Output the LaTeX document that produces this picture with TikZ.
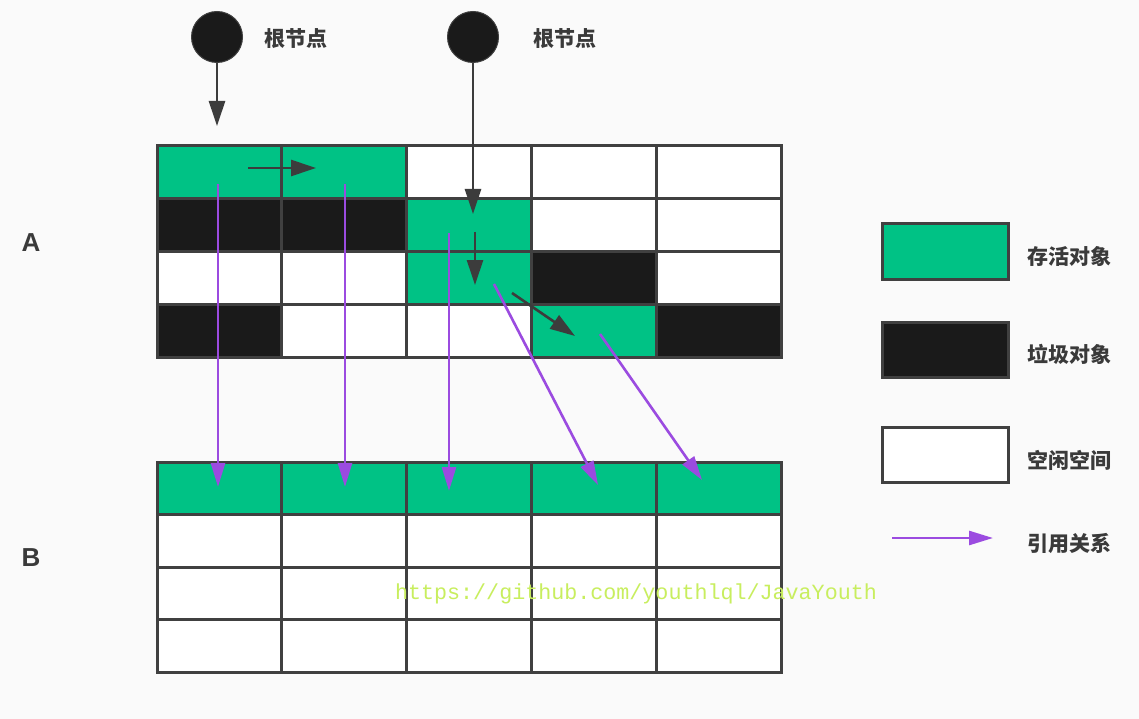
\documentclass[tikz,border=0pt]{standalone}
\usepackage{fontspec}
\usetikzlibrary{arrows.meta}
\newfontfamily\cjk{Noto Sans CJK SC}
\newfontfamily\latinb{Liberation Sans}
\newfontfamily\wmark{Liberation Mono}
\definecolor{live}{HTML}{00C285}
\definecolor{garb}{HTML}{1A1A1A}
\definecolor{linec}{HTML}{404040}
\definecolor{arrowc}{HTML}{3C3C3C}
\definecolor{refc}{HTML}{9B4BE0}
\definecolor{textc}{HTML}{3A3A3A}
\definecolor{wmc}{HTML}{C8EE5E}
\definecolor{bgc}{HTML}{FAFAFA}
\tikzset{
  cell/.style={draw=linec, line width=3pt, minimum width=124.8pt, minimum height=52.75pt, inner sep=0pt, outer sep=0pt, anchor=north west},
  g/.style={fill=live},
  k/.style={fill=garb},
  w/.style={fill=white},
  legbox/.style={draw=linec, line width=3pt, minimum width=126pt, minimum height=55pt, inner sep=0pt},
  root/.style={circle, fill=garb, draw=linec, line width=1pt, minimum size=51pt, inner sep=0pt},
  lab/.style={text=textc, font=\cjk\bfseries\fontsize{21}{21}\selectfont, inner sep=0pt},
  big/.style={text=textc, font=\latinb\bfseries\fontsize{26}{26}\selectfont, inner sep=0pt},
  darr/.style={draw=arrowc, line width=2.6pt, -{Triangle[length=25pt,width=16pt]}},
  parr/.style={draw=refc, line width=2.6pt, -{Triangle[length=24pt,width=14pt]}},
}
\begin{document}
\begin{tikzpicture}[x=1pt,y=-1pt]
\useasboundingbox (0,0) rectangle (1139,719);
\fill[bgc] (0,0) rectangle (1139,719);
% grid A
\foreach \c [count=\i from 0] in {g,g,w,w,w, k,k,g,w,w, w,w,g,k,w, k,w,w,g,k}{
  \pgfmathtruncatemacro{\row}{floor(\i/5)}
  \pgfmathtruncatemacro{\col}{mod(\i,5)}
  \pgfmathsetmacro{\xx}{157+124.8*\col}
  \pgfmathsetmacro{\yy}{146+52.75*\row}
  \node[cell,\c] (A-\row-\col) at (\xx,\yy) {};
}
% grid B
\foreach \c [count=\i from 0] in {g,g,g,g,g, w,w,w,w,w, w,w,w,w,w, w,w,w,w,w}{
  \pgfmathtruncatemacro{\row}{floor(\i/5)}
  \pgfmathtruncatemacro{\col}{mod(\i,5)}
  \pgfmathsetmacro{\xx}{157+124.8*\col}
  \pgfmathsetmacro{\yy}{462+52.5*\row}
  \node[cell,\c,minimum height=52.5pt] (B-\row-\col) at (\xx,\yy) {};
}
% labels A / B
\node[big] (labA) at (31,243) {A};
\node[big] (labB) at (31,558) {B};
% roots
\node[root] (root1) at (217,37) {};
\node[root] (root2) at (473,37) {};
\node[lab] (rl1) at (296,39) {根节点};
\node[lab] (rl2) at (565,39) {根节点};
% dark arrow endpoints
\coordinate (r1e) at (217,126);
\coordinate (r2e) at (473,214);
\coordinate (hs) at (248,168);
\coordinate (he) at (316,168);
\coordinate (vs) at (475,232);
\coordinate (ve) at (475,285);
\coordinate (ds) at (512,293);
\coordinate (de) at (575,336);
\draw[darr] (root1.south) -- (r1e);
\draw[darr] (root2.south) -- (r2e);
\draw[darr] (hs) -- (he);
\draw[darr] (vs) -- (ve);
\draw[darr] (ds) -- (de);
% watermark (behind the purple arrows)
\node[text=wmc, font=\wmark\fontsize{21.7}{22}\selectfont, inner sep=0pt] (wm) at (636,594) {https://github.com/youthlql/JavaYouth};
% purple reference arrows
\coordinate (p1s) at (218,184); \coordinate (p1e) at (218,487);
\coordinate (p2s) at (345,184); \coordinate (p2e) at (345,487);
\coordinate (p3s) at (449,233); \coordinate (p3e) at (449,491);
\coordinate (p4s) at (494,284); \coordinate (p4e) at (598,485);
\coordinate (p5s) at (600,334); \coordinate (p5e) at (702,480);
\draw[parr] (p1s) -- (p1e);
\draw[parr] (p2s) -- (p2e);
\draw[parr] (p3s) -- (p3e);
\draw[parr] (p4s) -- (p4e);
\draw[parr] (p5s) -- (p5e);
% legend
\node[legbox, fill=live] (lg1) at (945,251.5) {};
\node[legbox, fill=garb] (lg2) at (945,349.5) {};
\node[legbox, fill=white] (lg3) at (945,454.5) {};
\coordinate (la1) at (892,538);
\coordinate (la2) at (993,538);
\draw[parr] (la1) -- (la2);
\node[lab] (lt1) at (1069,256) {存活对象};
\node[lab] (lt2) at (1069,354) {垃圾对象};
\node[lab] (lt3) at (1069,460) {空闲空间};
\node[lab] (lt4) at (1069,543) {引用关系};
\end{tikzpicture}
\end{document}
